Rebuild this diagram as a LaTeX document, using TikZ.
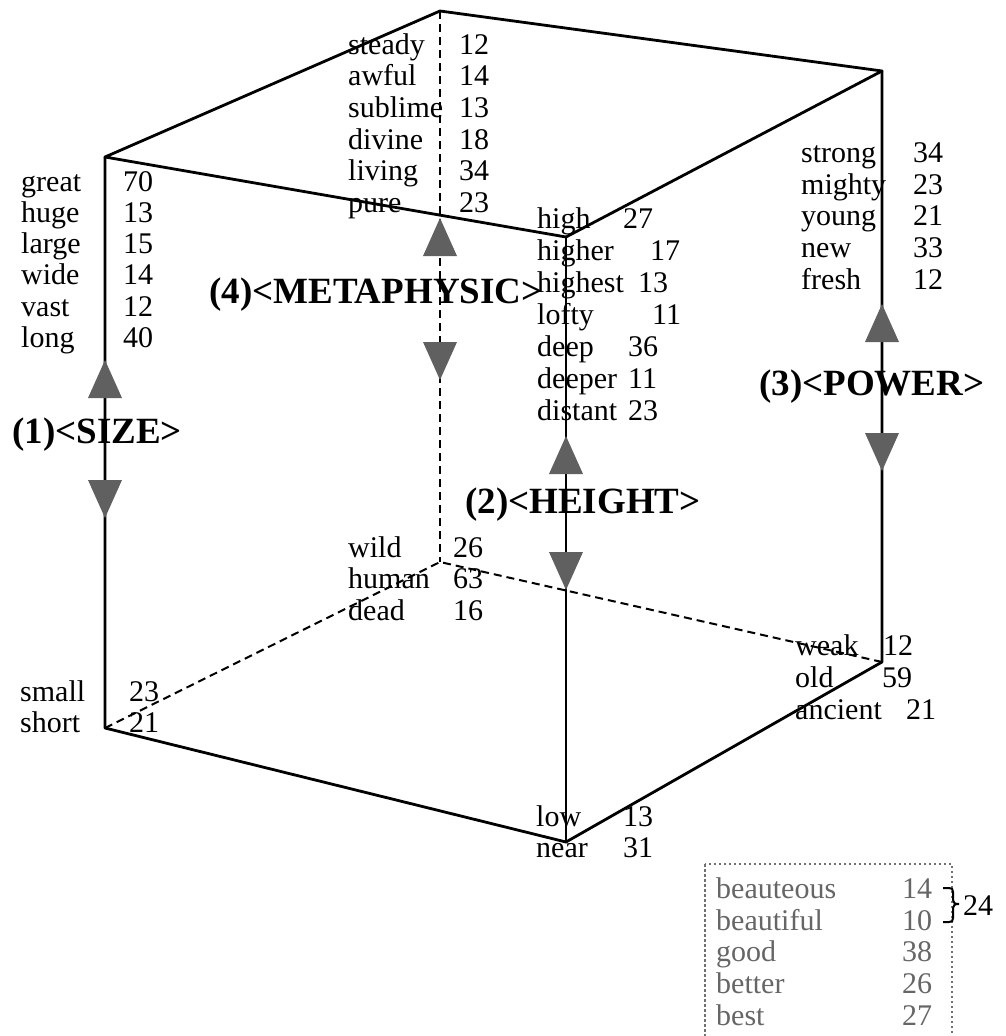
\documentclass[tikz,border=0pt]{standalone}
\usepackage{fontspec}
\setmainfont{Liberation Serif}
\definecolor{tipgray}{HTML}{606060}
\definecolor{boxgray}{HTML}{666666}
\definecolor{dotgray}{HTML}{707070}
% one word and its count, each set on the same baseline
\newcommand\wordrow[6]{%
  \node[txt] (#1w) at (#2,#3) {#4};
  \node[txt] (#1n) at (#5,#3) {#6};}
\newcommand\boxrow[6]{%
  \node[boxtxt] (#1w) at (#2,#3) {#4};
  \node[boxtxt] (#1n) at (#5,#3) {#6};}
% axis tips: apex at the given point
\newcommand\tipup[2]{\fill[tip] (#1,#2) -- ++(-17,38) -- ++(34,0) -- cycle;}
\newcommand\tipdown[2]{\fill[tip] (#1,#2) -- ++(-17,-38) -- ++(34,0) -- cycle;}
\begin{document}
\begin{tikzpicture}[x=1pt,y=-1pt,
  txt/.style={anchor=base west, inner sep=0pt, font=\fontsize{30}{32}\selectfont},
  boxtxt/.style={txt, text=boxgray},
  axislabel/.style={anchor=base west, inner sep=0pt, font=\fontsize{37}{40}\selectfont\bfseries},
  edge/.style={line width=2.8pt, line cap=round, line join=round},
  hidden/.style={line width=2pt, dash pattern=on 8pt off 5pt},
  tip/.style={fill=tipgray}]
\useasboundingbox (0,0) rectangle (1006,1036);
\clip (0,0) rectangle (1006,1036);

% cube corners
\coordinate (A) at (440,11);
\coordinate (B) at (882,71);
\coordinate (C) at (105,157);
\coordinate (D) at (566,237);
\coordinate (E) at (105,728);
\coordinate (F) at (566,842);
\coordinate (G) at (440,562);
\coordinate (H) at (882,662);

% hidden edges
\draw[hidden] (A) -- (G);
\draw[hidden] (E) -- (G) -- (H);

% visible edges
\draw[edge] (C) -- (A) -- (B) -- (D) -- cycle;
\draw[edge] (C) -- (E) -- (F) -- (H) -- (B);
\draw[edge] (D) -- (F);

% axis tips
\tipup{105}{360}   \tipdown{105}{518}
\tipup{440}{218}   \tipdown{440}{380}
\tipup{566}{436}   \tipdown{566}{590}
\tipup{882}{304}   \tipdown{882}{471}

% axis labels
\node[axislabel] (lsize)  at (12,443)  {(1)<SIZE>};
\node[axislabel] (lmeta)  at (209,303) {(4)<METAPHYSIC>};
\node[axislabel] (lheight) at (465,513) {(2)<HEIGHT>};
\node[axislabel] (lpower) at (759,395) {(3)<POWER>};

% size
\wordrow{s1}{21}{191}{great}{123}{70}
\wordrow{s2}{21}{222.3}{huge}{123}{13}
\wordrow{s3}{21}{253.6}{large}{123}{15}
\wordrow{s4}{21}{284.9}{wide}{123}{14}
\wordrow{s5}{21}{316.2}{vast}{123}{12}
\wordrow{s6}{21}{347.5}{long}{123}{40}
\wordrow{s7}{20}{701}{small}{129}{23}
\wordrow{s8}{20}{732}{short}{129}{21}

% metaphysic
\wordrow{m1}{348}{54}{steady}{459}{12}
\wordrow{m2}{348}{85.7}{awful}{459}{14}
\wordrow{m3}{348}{117.4}{sublime}{459}{13}
\wordrow{m4}{348}{149.1}{divine}{459}{18}
\wordrow{m5}{348}{180.8}{living}{459}{34}
\wordrow{m6}{348}{212.5}{pure}{459}{23}
\wordrow{m7}{348}{557}{wild}{453}{26}
\wordrow{m8}{348}{588.5}{human}{453}{63}
\wordrow{m9}{348}{620}{dead}{453}{16}

% height
\wordrow{h1}{537}{228.5}{high}{623}{27}
\wordrow{h2}{537}{260.5}{higher}{650}{17}
\wordrow{h3}{537}{292.5}{highest}{638}{13}
\wordrow{h4}{537}{324.5}{lofty}{652}{11}
\wordrow{h5}{537}{356.5}{deep}{628}{36}
\wordrow{h6}{537}{388.5}{deeper}{628}{11}
\wordrow{h7}{537}{420.5}{distant}{628}{23}
\wordrow{h8}{536}{826}{low}{623}{13}
\wordrow{h9}{536}{857}{near}{623}{31}

% power
\wordrow{p1}{801}{162.3}{strong}{913}{34}
\wordrow{p2}{801}{194}{mighty}{913}{23}
\wordrow{p3}{801}{225.7}{young}{913}{21}
\wordrow{p4}{801}{257.3}{new}{913}{33}
\wordrow{p5}{801}{289}{fresh}{913}{12}
\wordrow{p6}{795}{655}{weak}{883}{12}
\wordrow{p7}{795}{687}{old}{882}{59}
\wordrow{p8}{795}{719}{ancient}{906}{21}

% evaluation box
\draw[dotgray, line width=2.5pt, dash pattern=on 2.5pt off 2.5pt] (705,864) rectangle (952,1060);
\boxrow{b1}{716}{898.3}{beauteous}{902}{14}
\boxrow{b2}{716}{930}{beautiful}{902}{10}
\boxrow{b3}{716}{961.7}{good}{902}{38}
\boxrow{b4}{716}{993.3}{better}{902}{26}
\boxrow{b5}{716}{1025}{best}{902}{27}

% brace joining the first two rows
\draw[line width=2pt] (943,888) -- (949,888)
  .. controls (952,888) and (953,889) .. (953,892) -- (953,900)
  .. controls (953,903) and (955,904) .. (959,904)
  .. controls (955,904) and (953,905) .. (953,908) -- (953,918)
  .. controls (953,921) and (952,922) .. (949,922) -- (943,922);
\node[txt] (bsum) at (963,915) {24};
\end{tikzpicture}
\end{document}
